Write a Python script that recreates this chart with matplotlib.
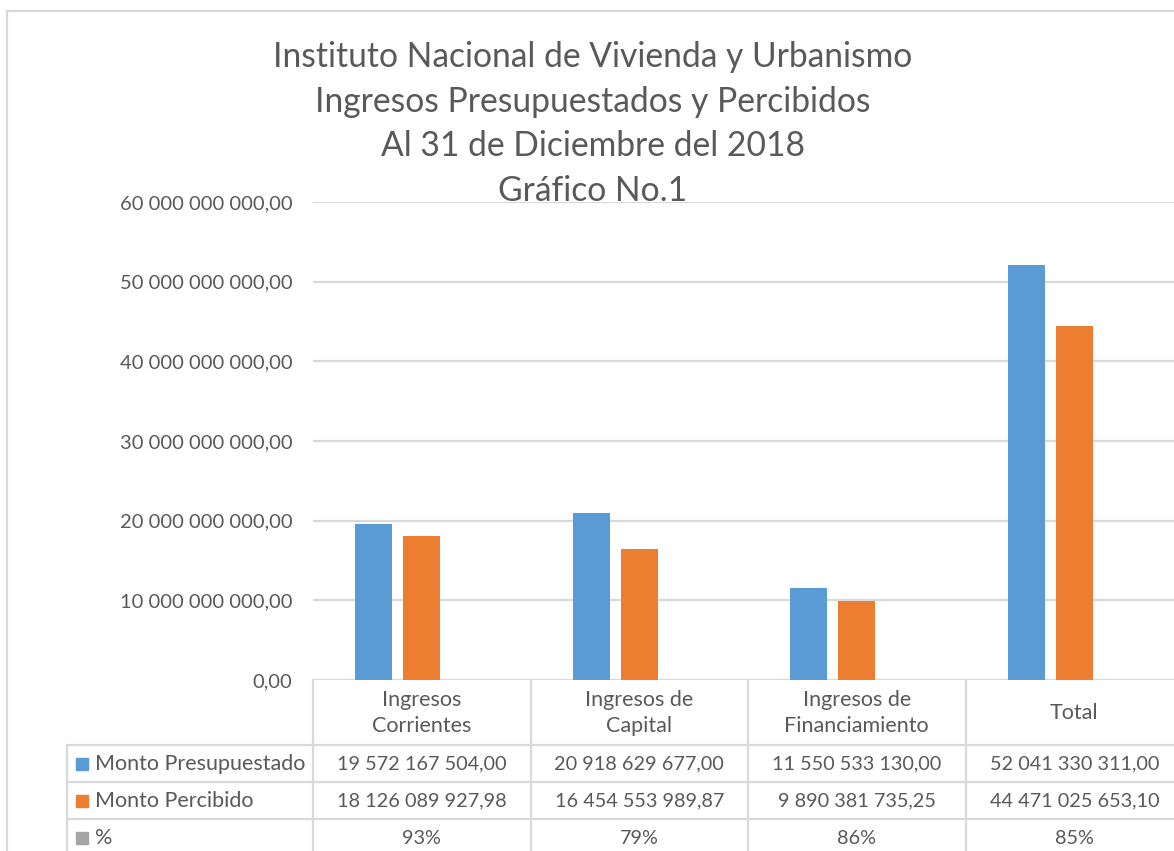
import numpy as np
import matplotlib.pyplot as plt
from matplotlib.ticker import FuncFormatter
from matplotlib.transforms import blended_transform_factory
from matplotlib.patches import Rectangle
from matplotlib.lines import Line2D

plt.rcParams['font.family'] = ['Lato', 'DejaVu Sans']

titulo = ["Instituto Nacional de Vivienda y Urbanismo",
          "Ingresos Presupuestados y Percibidos",
          "Al 31 de Diciembre del 2018",
          "Gráfico No.1"]
categorias = ["Ingresos\nCorrientes", "Ingresos de\nCapital",
              "Ingresos de\nFinanciamiento", "Total"]
series = ["Monto Presupuestado", "Monto Percibido", "%"]
presupuestado = [19572167504.00, 20918629677.00, 11550533130.00, 52041330311.00]
percibido = [18126089927.98, 16454553989.87, 9890381735.25, 44471025653.10]
porcentaje = [93, 79, 86, 85]

azul = "#5B9BD5"
naranja = "#ED7D31"
gris = "#A5A5A5"
texto = "#595959"
linea = "#D9D9D9"

W, H = 1174, 851


def fx(px):
    return px / W


def fy(py):
    return 1 - py / H


def fmt(v, pos=None):
    return f"{v:,.2f}".replace(",", " ").replace(".", ",")


fig = plt.figure(figsize=(W / 100, H / 100), dpi=100)
ax = fig.add_axes([fx(313), fy(680), fx(1183) - fx(313), fy(202) - fy(680)])

x = np.arange(len(categorias))
ax.bar(x - 0.22, presupuestado, 0.17, color=azul, zorder=3)
ax.bar(x, percibido, 0.17, color=naranja, zorder=3)
ax.set_xlim(-0.5, len(categorias) - 0.5)
ax.set_ylim(0, 6e10)
ax.set_yticks(np.arange(0, 6.1e10, 1e10))
ax.yaxis.set_major_formatter(FuncFormatter(fmt))
ax.tick_params(axis='y', length=0, pad=15, labelsize=14.5, labelcolor=texto)
ax.set_xticks([])
ax.grid(axis='y', color=linea, lw=1.6)
ax.set_axisbelow(True)
for s in ax.spines.values():
    s.set_visible(False)

# titulo
for i, t in enumerate(titulo):
    fig.text(fx(593), fy(67 + 44.7 * i), t, ha='center', va='baseline',
             fontsize=24.2, color=texto)

# borde del grafico
fig.add_artist(Line2D([fx(7), fx(7)], [fy(11), 0], color=linea, lw=1.6))
fig.add_artist(Line2D([fx(7), 1], [fy(11), fy(11)], color=linea, lw=1.6))

# tabla de datos
trans = blended_transform_factory(ax.transData, fig.transFigure)
for b in np.arange(len(categorias) + 1) - 0.5:
    fig.add_artist(Line2D([b, b], [fy(680), 0], transform=trans, color=linea, lw=1.6))
fig.add_artist(Line2D([fx(67), fx(67)], [fy(745), 0], color=linea, lw=1.6))
for yy in [745, 782, 819]:
    fig.add_artist(Line2D([fx(67), 1], [fy(yy), fy(yy)], color=linea, lw=1.6))

for i, c in enumerate(categorias):
    fig.text(i, fy(713), c, transform=trans, ha='center', va='center',
             fontsize=15.5, color=texto, linespacing=1.42)

filas = [[fmt(v) for v in presupuestado],
         [fmt(v) for v in percibido],
         [f"{p}%" for p in porcentaje]]
colores = [azul, naranja, gris]
centros = [764, 801, 838]
for fila, col, nombre, cy in zip(filas, colores, series, centros):
    fig.patches.append(Rectangle((fx(76), fy(cy + 6)), 12 / W, 12 / H,
                                 transform=fig.transFigure, color=col))
    fig.text(fx(95), fy(cy), nombre, ha='left', va='center', fontsize=15.5, color=texto)
    for i, s in enumerate(fila):
        fig.text(i, fy(cy), s, transform=trans, ha='center', va='center',
                 fontsize=14.3, color=texto)

fig.savefig("out.png", dpi=100)
